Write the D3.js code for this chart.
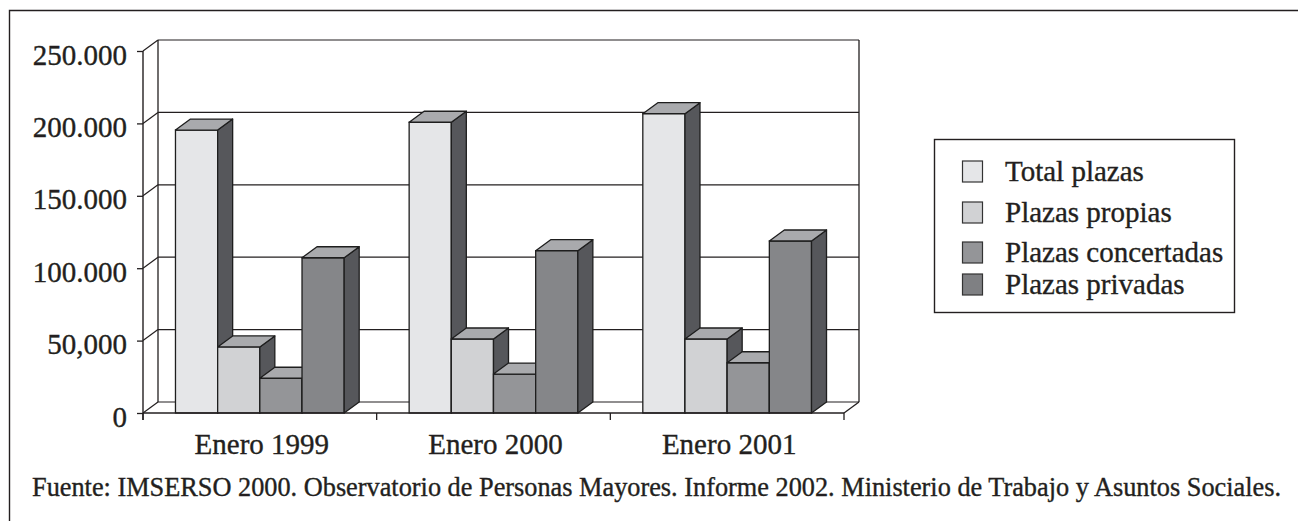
<!DOCTYPE html>
<html>
<head>
<meta charset="utf-8">
<script src="https://cdn.jsdelivr.net/npm/d3@7"></script>
<style>
  html, body { margin: 0; padding: 0; background: #fff; }
  svg { display: block; }
  text { font-family: "Liberation Serif", "Times New Roman", serif; fill: #231f20; stroke: #231f20; stroke-width: 0.35px; }
</style>
</head>
<body>
<svg id="chart" width="1298" height="521"></svg>
<script>
// ---- data ----
const categories = ["Enero 1999", "Enero 2000", "Enero 2001"];
const series = ["Total plazas", "Plazas propias", "Plazas concertadas", "Plazas privadas"];
const totalPlazas       = [195400, 200800, 206700];
const plazasPropias     = [45600, 51100, 51100];
const plazasConcertadas = [24000, 26900, 34700];
const plazasPrivadas    = [107200, 112100, 118800];
const tickValues = [0, 50000, 100000, 150000, 200000, 250000];
const tickLabels = ["0", "50,000", "100.000", "150.000", "200.000", "250.000"];
const sourceNote = "Fuente: IMSERSO 2000. Observatorio de Personas Mayores. Informe 2002. Ministerio de Trabajo y Asuntos Sociales.";

const seriesValues = [totalPlazas, plazasPropias, plazasConcertadas, plazasPrivadas];
const frontColors = ["#e5e6e8", "#d1d2d4", "#949598", "#858689"];
const legendColors = ["#e5e6e8", "#d1d2d4", "#949598", "#7f8083"];
const sideColor = "#56575b";
const topColor = "#a9aaad";
const ink = "#231f20";

// ---- layout ----
const svg = d3.select("#chart");
const left = 143, right = 844, floorY = 413, topY = 51;
const DX = 15, DY = -11;

const y = d3.scaleLinear().domain([0, 250000]).range([floorY, topY]);
const x0 = d3.scaleBand().domain(categories).range([left, right]).paddingInner(0).paddingOuter(0);
const x1 = d3.scaleBand().domain(series).range([0, x0.bandwidth()]).paddingInner(0).paddingOuter(0.77);

// outer frame (left + top)
svg.append("path")
  .attr("d", "M9.5,521 L9.5,10.5 L1298,10.5")
  .attr("fill", "none").attr("stroke", ink).attr("stroke-width", 1.4);

const g = svg.append("g");

// back wall gridlines
g.selectAll("line.grid").data(tickValues).join("line")
  .attr("class", "grid")
  .attr("x1", left + DX).attr("x2", right + DX)
  .attr("y1", d => y(d) + DY).attr("y2", d => y(d) + DY)
  .attr("stroke", ink).attr("stroke-width", 1.2);

// side wall diagonals
g.selectAll("line.diag").data(tickValues).join("line")
  .attr("class", "diag")
  .attr("x1", left).attr("x2", left + DX)
  .attr("y1", d => y(d)).attr("y2", d => y(d) + DY)
  .attr("stroke", ink).attr("stroke-width", 1.2);

// back wall verticals
[left + DX, right + DX].forEach(xx => {
  g.append("line").attr("x1", xx).attr("x2", xx)
    .attr("y1", y(250000) + DY).attr("y2", y(0) + DY)
    .attr("stroke", ink).attr("stroke-width", 1.3);
});
// floor right diagonal
g.append("line").attr("x1", right).attr("x2", right + DX)
  .attr("y1", y(0)).attr("y2", y(0) + DY)
  .attr("stroke", ink).attr("stroke-width", 1.3);

// bars
const barData = [];
categories.forEach((c, ci) => {
  series.forEach((s, si) => {
    barData.push({ c, s, si, v: seriesValues[si][ci] });
  });
});

const bars = g.selectAll("g.bar").data(barData).join("g").attr("class", "bar");
bars.each(function(d) {
  const bx = x0(d.c) + x1(d.s);
  const w = x1.bandwidth();
  const yt = y(d.v), yb = y(0);
  const sel = d3.select(this);
  sel.append("rect")
    .attr("x", bx).attr("y", yt).attr("width", w).attr("height", yb - yt)
    .attr("fill", frontColors[d.si]).attr("stroke", "#1e1e1e").attr("stroke-width", 1.3);
  sel.append("polygon")
    .attr("points", [[bx + w, yt], [bx + w + DX, yt + DY], [bx + w + DX, yb + DY], [bx + w, yb]].join(" "))
    .attr("fill", sideColor).attr("stroke", "#1e1e1e").attr("stroke-width", 1.3).attr("stroke-linejoin", "round");
  sel.append("polygon")
    .attr("points", [[bx, yt], [bx + DX, yt + DY], [bx + w + DX, yt + DY], [bx + w, yt]].join(" "))
    .attr("fill", topColor).attr("stroke", "#1e1e1e").attr("stroke-width", 1.3).attr("stroke-linejoin", "round");
});

// front floor line
g.append("line").attr("x1", left).attr("x2", right)
  .attr("y1", y(0)).attr("y2", y(0))
  .attr("stroke", ink).attr("stroke-width", 1.6);

// y axis
const yAxis = d3.axisLeft(y).tickValues(tickValues)
  .tickFormat((d, i) => tickLabels[i]).tickSize(6).tickPadding(10);
const ya = g.append("g").attr("transform", `translate(${left},0)`).call(yAxis);
ya.select(".domain").remove();
ya.selectAll(".tick line").attr("stroke", ink).attr("stroke-width", 1.3);
ya.selectAll(".tick text").attr("font-size", 29).attr("dy", "0.45em")
  .style("font-family", '"Liberation Serif", serif').attr("fill", ink);
g.append("line").attr("x1", left).attr("x2", left)
  .attr("y1", y(250000)).attr("y2", y(0) + 7)
  .attr("stroke", ink).attr("stroke-width", 1.4);

// x axis: ticks at band boundaries, labels at centres
const boundaries = categories.map(c => x0(c)).concat([x0.range()[1]]);
g.selectAll("line.xtick").data(boundaries).join("line")
  .attr("class", "xtick")
  .attr("x1", d => d).attr("x2", d => d)
  .attr("y1", y(0)).attr("y2", y(0) + 7)
  .attr("stroke", ink).attr("stroke-width", 1.3);
g.selectAll("text.xlab").data(categories).join("text")
  .attr("class", "xlab")
  .attr("x", d => x0(d) + x0.bandwidth() / 2 + 2)
  .attr("y", 454)
  .attr("text-anchor", "middle").attr("font-size", 29)
  .text(d => d);

// legend
const lg = svg.append("g");
lg.append("rect").attr("x", 934.5).attr("y", 139.5).attr("width", 300).attr("height", 173)
  .attr("fill", "#fff").attr("stroke", ink).attr("stroke-width", 1.4);
const rowY = [171.5, 212.5, 252.5, 284.5];
series.forEach((s, i) => {
  lg.append("rect").attr("x", 962.5).attr("y", rowY[i] - 10.5).attr("width", 20).attr("height", 21)
    .attr("fill", legendColors[i]).attr("stroke", "#333").attr("stroke-width", 1.2);
  lg.append("text").attr("x", 1005).attr("y", rowY[i]).attr("dy", "0.33em")
    .attr("font-size", 29).text(s);
});

// source note
svg.append("text").attr("x", 32).attr("y", 496).attr("font-size", 26.3).text(sourceNote);
</script>
</body>
</html>
